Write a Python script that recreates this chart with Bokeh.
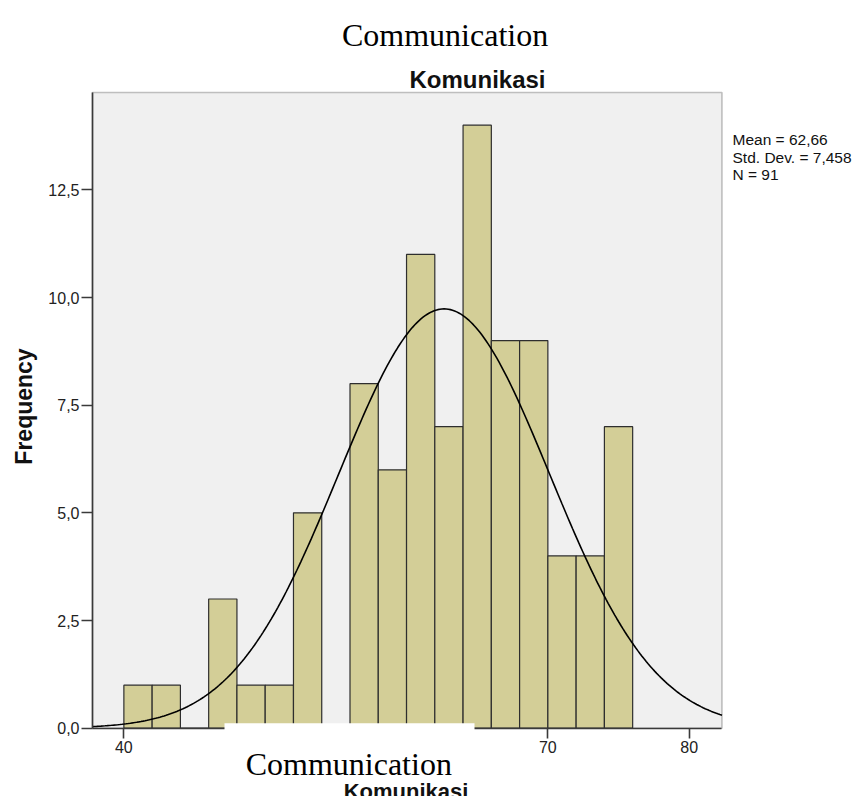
import math
import numpy as np
from bokeh.plotting import figure
from bokeh.models import Range1d, Label, FixedTicker, LinearAxis, BoxAnnotation
from bokeh.embed import file_html
from bokeh.resources import INLINE

# ---- data ----
BIN_LEFT = [40, 42, 44, 46, 48, 50, 52, 54, 56, 58, 60, 62, 64, 66, 68, 70, 72, 74]
BIN_WIDTH = 2
COUNTS = [1, 1, 0, 3, 1, 1, 5, 0, 8, 6, 11, 7, 14, 9, 9, 4, 4, 7]
MEAN = 62.66
SD = 7.458
N = 91
Y_TICKS = [0, 2.5, 5, 7.5, 10, 12.5]
Y_TICK_LABELS = ["0,0", "2,5", "5,0", "7,5", "10,0", "12,5"]
X_TICKS = [40, 50, 60, 70, 80]
STATS_LINES = ["Mean = 62,66", "Std. Dev. = 7,458", "N = 91"]

# plot area (data) and canvas geometry
X0, X1 = 37.78, 82.32
Y0, Y1 = 0.0, 14.76
W, H = 855, 796
PX_LEFT, PX_BOTTOM = 92.0, 727.7
XPX = 14.133   # px per x unit
YPX = 43.07    # px per y unit


def px2x(px):
    return X0 + (px - PX_LEFT) / XPX


def px2y(py):
    return (PX_BOTTOM - py) / YPX


p = figure(width=W, height=H, min_border=0,
           x_range=Range1d(px2x(0), px2x(W)), y_range=Range1d(px2y(H), px2y(0)),
           x_axis_type=None, y_axis_type=None,
           output_backend="svg", toolbar_location=None)
p.outline_line_color = None
p.background_fill_color = "white"
p.border_fill_color = "white"
p.xgrid.visible = False
p.ygrid.visible = False

# plot area
p.add_layout(BoxAnnotation(left=X0, right=X1, bottom=Y0, top=Y1,
                           fill_color="#F0F0F0", fill_alpha=1.0,
                           line_color="#3a3a3a", line_width=1.6, level="underlay"))

p.quad(left=BIN_LEFT, right=[b + BIN_WIDTH for b in BIN_LEFT], bottom=0, top=COUNTS,
       fill_color="#D3CE97", line_color="#2e2e2e", line_width=1.2)

# normal curve defined by the stated mean / sd / N
xs = np.linspace(X0, X1, 300)
ys = N * BIN_WIDTH / (SD * math.sqrt(2 * math.pi)) * np.exp(-0.5 * ((xs - MEAN) / SD) ** 2)
p.line(xs, ys, line_color="black", line_width=1.6)

FONT = "Liberation Sans"
yax = LinearAxis(fixed_location=X0, bounds=(Y0, Y1), ticker=FixedTicker(ticks=Y_TICKS))
xax = LinearAxis(fixed_location=Y0, bounds=(X0, X1), ticker=FixedTicker(ticks=X_TICKS))
for ax in (xax, yax):
    ax.axis_line_color = "#3a3a3a"
    ax.axis_line_width = 1.6
    ax.major_tick_line_color = "#3a3a3a"
    ax.major_tick_line_width = 1.6
    ax.major_tick_in = 0
    ax.minor_tick_line_color = None
    ax.major_label_text_font = FONT
    ax.major_label_text_font_size = "16px"
    ax.major_label_text_color = "#222222"
yax.major_label_overrides = {t: l for t, l in zip(Y_TICKS, Y_TICK_LABELS)}
yax.major_tick_out = 11
yax.major_label_standoff = 2
xax.major_tick_out = 10
xax.major_label_standoff = 3
p.add_layout(yax, "left")
p.add_layout(xax, "below")

# chart title
p.add_layout(Label(x=px2x(477), y=px2y(79), text="Komunikasi", text_align="center",
                   text_baseline="alphabetic", text_font=FONT,
                   text_font_size="24px", text_font_style="bold", text_color="#111111"))
# y axis label
p.add_layout(Label(x=px2x(23), y=px2y(406), text="Frequency", angle=math.pi / 2,
                   text_align="center", text_baseline="middle", text_font=FONT,
                   text_font_size="23px", text_font_style="bold", text_color="#111111"))
# x axis label (partly hidden by the pasted caption)
p.add_layout(Label(x=px2x(405.5), y=px2y(791), text="Komunikasi", text_align="center",
                   text_baseline="alphabetic", text_font=FONT,
                   text_font_size="22px", text_font_style="bold", text_color="#111111"))
# statistics
for i, line in enumerate(STATS_LINES):
    p.add_layout(Label(x=px2x(732), y=px2y(139.3 + 17.4 * i), text=line,
                       text_align="left", text_baseline="alphabetic", text_font=FONT,
                       text_font_size="15.5px", text_color="#111111"))

# document caption above the chart
p.add_layout(Label(x=px2x(444.6), y=px2y(34.3), text="Communication", text_align="center",
                   text_baseline="alphabetic", text_font="Liberation Serif",
                   text_font_size="32px", text_color="black"))
# document caption pasted over the x axis, on a white box
p.add_layout(BoxAnnotation(left=px2x(224), right=px2x(474), top=px2y(722.7), bottom=px2y(779),
                           fill_color="white", fill_alpha=1.0, line_color=None))
p.add_layout(Label(x=px2x(348.3), y=px2y(763.3), text="Communication", text_align="center",
                   text_baseline="alphabetic", text_font="Liberation Serif",
                   text_font_size="32px", text_color="black"))

open("out.html", "w").write(file_html(p, INLINE))
